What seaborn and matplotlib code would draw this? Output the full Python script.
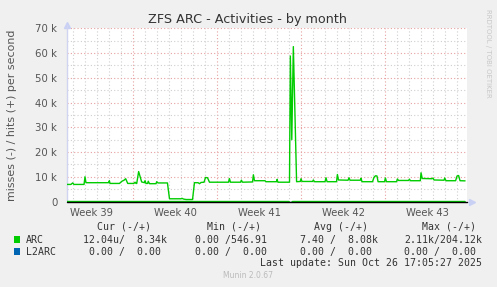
import matplotlib
matplotlib.use("Agg")
import matplotlib.pyplot as plt
from matplotlib.ticker import MultipleLocator, FuncFormatter, FixedLocator
import seaborn as sns
import pandas as pd

# ---- data (x in days since Mon 22 Sep 2025 00:00, values in hits/s) ----
arc_days = [1.5, 1.83, 1.97, 2.08, 2.92, 3.0, 3.08, 4.96, 5.03, 5.08, 5.87, 6.08, 6.25, 6.39, 6.56,
            7.08, 7.17, 7.25, 7.31, 7.47, 7.72, 7.96, 8.0, 8.08, 8.22, 8.27, 8.37, 8.92, 8.97, 9.08,
            9.87, 10.04, 11.0, 11.08, 11.2, 11.42, 11.96, 12.12, 12.42, 12.54, 12.67, 12.92, 13.04,
            13.21, 13.37, 14.96, 15.03, 15.12, 15.96, 16.03, 16.12, 16.96, 17.03, 17.12, 18.0, 18.08,
            18.96, 19.0, 19.08, 20.04, 20.11, 20.23, 20.36, 20.63, 20.94, 21.0, 21.08, 21.96, 22.03,
            22.12, 23.0, 23.08, 23.17, 23.96, 24.03, 24.12, 24.92, 25.0, 25.08, 25.94, 26.0, 26.08,
            26.96, 27.08, 27.21, 27.33, 27.42, 27.96, 28.03, 28.12, 28.96, 29.03, 29.12, 29.96, 30.03,
            30.12, 30.94, 31.0, 31.1, 31.92, 32.0, 32.08, 32.92, 32.97, 33.08, 33.88, 34.0, 34.13,
            34.25, 34.67]
arc_hits = [6900, 6900, 7500, 6900, 6900, 10000, 7600, 7600, 8400, 7300, 7300, 8200, 8600, 9200, 7300,
            7300, 7800, 7300, 7300, 12100, 7900, 7600, 8400, 7300, 7300, 8200, 7200, 7200, 8000, 7500,
            7500, 1100, 1100, 1300, 1000, 800, 800, 7600, 7600, 7200, 7700, 7800, 9700,
            9600, 7800, 7800, 9300, 7800, 7800, 8600, 7800, 7900, 10800, 8400, 8400, 8000,
            8000, 8900, 7800, 7800, 58800, 25000, 62600, 8000, 8100, 9200, 8100, 8100, 8700,
            8000, 8000, 9600, 8000, 8000, 10900, 8700, 8600, 9600, 8600, 8600, 9400, 8000,
            8000, 9800, 10400, 10300, 8000, 8000, 9500, 8000, 8000, 9100, 8500, 8500, 9000,
            8400, 8400, 11600, 9300, 9200, 9500, 8700, 8600, 9500, 8400, 8400, 10300, 10500,
            8400, 8340]
arc_miss_days = [1.5, 20.0, 20.1, 20.3, 34.67]
arc_misses = [0, 0, -800, 0, 0]
l2arc_days = [1.5, 34.67]
l2arc_hits = [0, 0]

week_labels = ["Week 39", "Week 40", "Week 41", "Week 42", "Week 43"]
week_centers = [3.5, 10.5, 17.5, 24.5, 31.5]
week_bounds = [7, 14, 21, 28]

title = "ZFS ARC - Activities - by month"
ylabel = "misses (-) / hits (+) per second"
legend_names = ["ARC", "L2ARC"]
legend_colors = ["#00CC00", "#0066B3"]
col_headers = ["Cur (-/+)", "Min (-/+)", "Avg (-/+)", "Max (-/+)"]
rows = [["12.04u/  8.34k", "0.00 /546.91", "7.40 /  8.08k", "2.11k/204.12k"],
        ["0.00 /  0.00 ", "0.00 /  0.00", "0.00 /  0.00 ", "0.00 /  0.00 "]]
last_update = "Last update: Sun Oct 26 17:05:27 2025"
version = "Munin 2.0.67"

# ---- figure ----
sns.set_style("white")
plt.rcParams["font.family"] = ["DejaVu Sans"]
W, H = 497, 287
fig = plt.figure(figsize=(W / 100, H / 100), dpi=100, facecolor="#F0F0F0")
ax = fig.add_axes([67 / W, 1 - 201.5 / H, 400 / W, 173.2 / H])
ax.set_facecolor("white")

df_hits = pd.DataFrame({"day": arc_days, "v": arc_hits})
df_miss = pd.DataFrame({"day": arc_miss_days, "v": arc_misses})
df_l2 = pd.DataFrame({"day": l2arc_days, "v": l2arc_hits})

sns.lineplot(data=df_l2, x="day", y="v", ax=ax, color=legend_colors[1], lw=1.0, zorder=3)
sns.lineplot(data=df_miss, x="day", y="v", ax=ax, color=legend_colors[0], lw=1.0, zorder=3)
sns.lineplot(data=df_hits, x="day", y="v", ax=ax, color=legend_colors[0], lw=1.0, zorder=4)
ax.axhline(0, color="black", lw=1.0, zorder=5, clip_on=False)

ax.set_xlim(1.5, 34.83)
ax.set_ylim(0, 70000)
ax.set_xlabel("")
ax.set_ylabel("")

ax.yaxis.set_major_locator(MultipleLocator(10000))
ax.yaxis.set_minor_locator(MultipleLocator(5000))
ax.yaxis.set_major_formatter(FuncFormatter(lambda v, p: "0" if v == 0 else f"{int(round(v / 1000))} k"))
ax.xaxis.set_major_locator(FixedLocator(week_bounds))
ax.xaxis.set_minor_locator(MultipleLocator(1))
ax.set_xticklabels([])

ax.set_axisbelow(True)
ax.grid(which="major", color="#E8A0A0", lw=0.8, ls=(0, (1, 2)))
ax.grid(which="minor", color="#CFCFCF", lw=0.8, ls=(0, (1, 2)))
ax.tick_params(axis="y", which="both", length=0, pad=7, labelsize=7.3, labelcolor="#555555")
ax.tick_params(axis="x", which="major", length=2, color="#E8A0A0", direction="out")
ax.tick_params(axis="x", which="minor", length=1.5, color="#CFCFCF", direction="out")

sec = ax.secondary_xaxis("bottom")
sec.set_xticks(week_centers, week_labels)
sec.tick_params(length=0, pad=5, labelsize=7.2, labelcolor="#555555")
sec.spines["bottom"].set_visible(False)

for s in ["top", "right", "bottom"]:
    ax.spines[s].set_visible(False)
ax.spines["left"].set_color("#D0D4F0")
ax.spines["left"].set_linewidth(1.0)
ax.plot([0], [1.02], marker="^", ms=4, color="#C8D0F4", transform=ax.transAxes, clip_on=False)
ax.plot([0, 0], [1.0, 1.02], color="#D0D4F0", lw=1.0, transform=ax.transAxes, clip_on=False)
ax.plot([1.0, 1.01], [0, 0], color="#C8D0F4", lw=1.0, transform=ax.transAxes, clip_on=False)
ax.plot([1.012], [0], marker=">", ms=4, color="#C8D0F4", transform=ax.transAxes, clip_on=False)

# ---- texts ----
fig.text(248 / W, 1 - 19 / H, title, ha="center", va="center", fontsize=9.2, color="#333333")
fig.text(12 / W, 1 - 115 / H, ylabel, rotation=90, ha="center", va="center", fontsize=7.9, color="#555555")
fig.text(488 / W, 1 - 53 / H, "RRDTOOL / TOBI OETIKER", rotation=270, ha="center", va="center",
         fontsize=5, color="#C8C8C8")

mono = "DejaVu Sans Mono"
fs = 7.1
tc = "#333333"
hdr_right = [151, 261, 368, 476]
val_right = [167, 267, 378, 482]
row_y = [239.7, 251.7]
for hx, h in zip(hdr_right, col_headers):
    fig.text(hx / W, 1 - 226.7 / H, h, ha="right", va="center", family=mono, fontsize=fs, color=tc)
for ri, (name, col, vals) in enumerate(zip(legend_names, legend_colors, rows)):
    y = 1 - row_y[ri] / H
    fig.patches.append(plt.Rectangle((14 / W, y - 3.2 / H), 6 / W, 6.5 / H, transform=fig.transFigure,
                                     facecolor=col, edgecolor="none"))
    fig.text(26 / W, y, name, ha="left", va="center", family=mono, fontsize=fs, color=tc)
    for vx, v in zip(val_right, vals):
        fig.text(vx / W, y, v, ha="right", va="center", family=mono, fontsize=fs, color=tc)
fig.text(482 / W, 1 - 262.7 / H, last_update, ha="right", va="center", family=mono, fontsize=fs, color=tc)
fig.text(248 / W, 1 - 276 / H, version, ha="center", va="center", fontsize=5.5, color="#BBBBBB")

fig.savefig("out.png", dpi=100, facecolor=fig.get_facecolor())
